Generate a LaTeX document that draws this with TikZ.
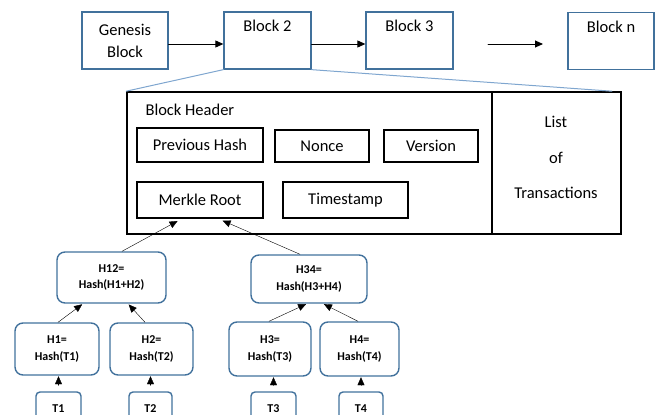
\documentclass[tikz,border=0pt]{standalone}
\usepackage{fontspec}
\setmainfont{Carlito}
\usepackage{tikz}
\usetikzlibrary{arrows.meta}
\usepackage{xcolor}
\definecolor{boxblue}{HTML}{41719C}
\definecolor{linkblue}{HTML}{7FA6CF}

\begin{document}
\begin{tikzpicture}[x=1pt,y=-1pt,>={Triangle[length=8pt,width=7pt]},line cap=round,
  chainblock/.style={draw=boxblue,line width=1.3pt,minimum width=86pt,minimum height=57pt,
    align=center,font=\fontsize{16.5}{22}\selectfont},
  field/.style={draw,line width=1.2pt,inner sep=0pt,font=\fontsize{16.5}{20}\selectfont},
  hashbox/.style={draw=boxblue,line width=1.4pt,rounded corners=8pt,inner sep=0pt,align=center,
    font=\bfseries\fontsize{12}{16.5}\selectfont},
  txbox/.style={draw=boxblue,line width=1.4pt,rounded corners=4pt,inner sep=0pt,
    minimum height=34pt,font=\bfseries\fontsize{12}{14}\selectfont}]
\useasboundingbox (0,0) rectangle (656,415);
\node[chainblock] (genesis) at (125,40.5) {Genesis\\Block};
\node[chainblock,minimum width=87pt] (blocktwo) at (267.5,40.5) {Block 2\\\strut};
\node[chainblock,minimum width=87pt] (blockthree) at (409.5,40.5) {Block 3\\\strut};
\node[chainblock] (blockn) at (611,41) {Block n\\\strut};
\coordinate (gapstart) at (488,44);
\coordinate (gapend) at (543,44);
\draw[->,line width=0.9pt] ([yshift=-3.5pt]genesis.east) -- ([yshift=-3.5pt]blocktwo.west);
\draw[->,line width=0.9pt] ([yshift=-3.5pt]blocktwo.east) -- ([yshift=-3.5pt]blockthree.west);
\draw[->,line width=0.9pt] (gapstart) -- (gapend);
\node[draw,line width=1.6pt,minimum width=365pt,minimum height=142pt] (header) at (309.5,163) {};
\node[draw,line width=1.6pt,minimum width=129pt,minimum height=142pt] (txlist) at (556.5,163) {};
\draw[linkblue,line width=1pt] (blocktwo.south west) -- (header.north west);
\draw[linkblue,line width=1pt] (blocktwo.south east) -- ([xshift=-10pt]txlist.north east);
\node[anchor=west,font=\fontsize{16.5}{20}\selectfont] (headertitle) at (142,110) {Block Header};
\node[align=center,font=\fontsize{16.5}{35.5}\selectfont] (txtitle) at (556,157.5) {List\\of\\Transactions};
\node[field,minimum width=126pt,minimum height=34pt] (prevhash) at (200,145) {Previous Hash};
\node[field,minimum width=94pt,minimum height=32pt] (nonce) at (322,146) {Nonce};
\node[field,minimum width=94pt,minimum height=32pt] (version) at (431,146) {Version};
\node[field,minimum width=126pt,minimum height=36pt] (merkle) at (200,200) {Merkle Root};
\node[field,minimum width=125pt,minimum height=36pt] (timestamp) at (345.5,200) {Timestamp};
\node[hashbox,minimum width=109pt,minimum height=51pt] (h12) at (111.5,277.5) {H12=\\Hash(H1+H2)};
\node[hashbox,minimum width=116pt,minimum height=48pt] (h34) at (309,279) {H34=\\Hash(H3+H4)};
\node[hashbox,minimum width=84pt,minimum height=52pt] (h1) at (57,349) {H1=\\Hash(T1)};
\node[hashbox,minimum width=83pt,minimum height=52pt] (h2) at (151.5,349) {H2=\\Hash(T2)};
\node[hashbox,minimum width=82pt,minimum height=54pt] (h3) at (270,349) {H3=\\Hash(T3)};
\node[hashbox,minimum width=79pt,minimum height=54pt] (h4) at (359.5,349) {H4=\\Hash(T4)};
\node[txbox,minimum width=45pt] (t1) at (58.5,409) {T1};
\node[txbox,minimum width=43pt] (t2) at (150.5,409) {T2};
\node[txbox,minimum width=45pt] (t3) at (273.5,409) {T3};
\node[txbox,minimum width=44pt] (t4) at (361,409) {T4};
\draw[->,shorten <=6pt,shorten >=0.5pt] (t1.north) -- (t1.north |- h1.south);
\draw[->,shorten <=6pt,shorten >=0.5pt] (t2.north) -- (t2.north |- h2.south);
\draw[->,shorten <=6pt,shorten >=0.5pt] (t3.north) -- (t3.north |- h3.south);
\draw[->,shorten <=6pt,shorten >=0.5pt] (t4.north) -- (t4.north |- h4.south);
\draw[->,shorten >=1pt] ([xshift=1pt]h1.north) -- ([xshift=-28.5pt]h12.south);
\draw[->,shorten >=1pt] ([xshift=-6.5pt]h2.north) -- ([xshift=16.5pt]h12.south);
\draw[->,shorten >=1pt] ([xshift=-1pt]h3.north) -- ([xshift=-2pt]h34.south);
\draw[->,shorten >=1pt] ([xshift=-1.5pt]h4.north) -- ([xshift=14pt]h34.south);
\draw[->,shorten >=5pt] ([xshift=10.5pt]h12.north) -- ([xshift=-18pt]merkle.south);
\draw[->,shorten >=5pt] ([xshift=-9pt]h34.north) -- ([xshift=18pt]merkle.south);
\end{tikzpicture}
\end{document}
